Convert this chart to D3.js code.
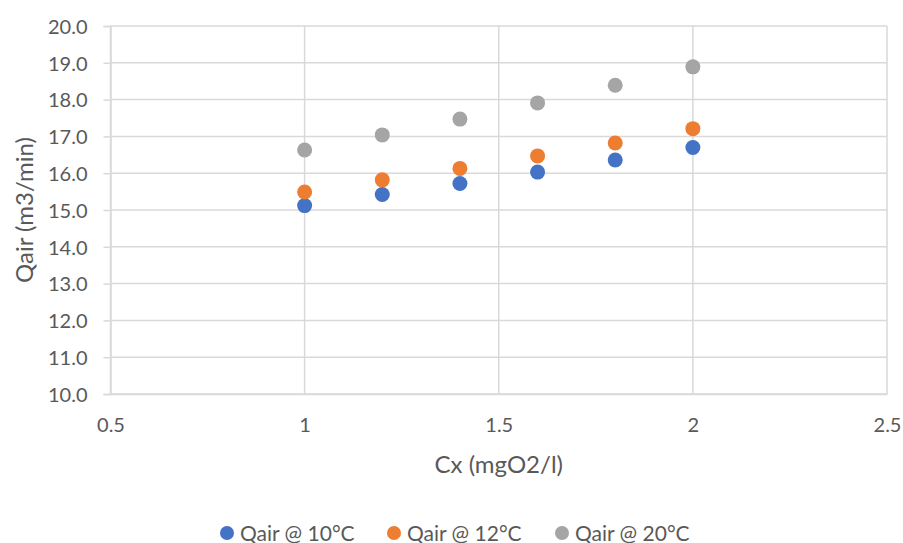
<!DOCTYPE html>
<html>
<head>
<meta charset="utf-8">
<script src="https://cdn.jsdelivr.net/npm/d3@7"></script>
<style>
  body { margin: 0; background: #fff; }
  text { font-family: Lato, "Liberation Sans", sans-serif; fill: #595959; }
</style>
</head>
<body>
<script>
var w = 903,
    h = 543;

// Oxygen concentration (mgO2/l) and air flow per temperature
var cx = [1, 1.2, 1.4, 1.6, 1.8, 2];
var q10 = [15.12, 15.42, 15.72, 16.03, 16.36, 16.70];
var q12 = [15.49, 15.82, 16.13, 16.47, 16.82, 17.21];
var q20 = [16.63, 17.04, 17.47, 17.91, 18.39, 18.89];

var seriesNames = ['Qair @ 10°C', 'Qair @ 12°C', 'Qair @ 20°C'];
var seriesColors = ['#4472c4', '#ed7d31', '#a5a5a5'];
var xTicks = [0.5, 1, 1.5, 2, 2.5];
var yTicks = [10, 11, 12, 13, 14, 15, 16, 17, 18, 19, 20];

var series = [q10, q12, q20].map(function(vals, i) {
  return {
    name: seriesNames[i],
    color: seriesColors[i],
    points: vals.map(function(v, j) { return { x: cx[j], y: v }; })
  };
});

var margin = { top: 26, right: 16, bottom: 149, left: 110.5 };

var svg = d3.select('body')
            .append('svg')
            .attr('width', w)
            .attr('height', h);

var x = d3.scaleLinear()
          .domain([0.5, 2.5])
          .range([margin.left, w - margin.right]);

var y = d3.scaleLinear()
          .domain([10, 20])
          .range([h - margin.bottom, margin.top]);

// Gridlines
svg.append('g')
   .selectAll('line')
   .data(yTicks)
   .enter()
   .append('line')
   .attr('x1', x(0.5))
   .attr('x2', x(2.5))
   .attr('y1', function(d) { return y(d); })
   .attr('y2', function(d) { return y(d); })
   .style('stroke', '#d9d9d9')
   .style('stroke-width', 1.5);

svg.append('g')
   .selectAll('line')
   .data(xTicks)
   .enter()
   .append('line')
   .attr('x1', function(d) { return x(d); })
   .attr('x2', function(d) { return x(d); })
   .attr('y1', y(10))
   .attr('y2', y(20))
   .style('stroke', '#d9d9d9')
   .style('stroke-width', 1.5);

// Axes
var yAxis = d3.axisLeft(y)
              .tickValues(yTicks)
              .tickFormat(d3.format('.1f'))
              .tickSize(7)
              .tickPadding(16);

var gy = svg.append('g')
            .attr('transform', 'translate(' + x(0.5) + ',0)')
            .call(yAxis);
gy.select('.domain').style('stroke', '#d9d9d9').style('stroke-width', 1.5);
gy.selectAll('.tick line').style('stroke', '#d9d9d9').style('stroke-width', 1.5);
gy.selectAll('text')
  .attr('dy', '0.36em')
  .style('font-family', 'Lato, sans-serif')
  .style('font-size', '20px')
  .style('fill', '#595959');

var xAxis = d3.axisBottom(x)
              .tickValues(xTicks)
              .tickFormat(d3.format(''))
              .tickSize(0);

var gx = svg.append('g')
            .attr('transform', 'translate(0,' + y(10) + ')')
            .call(xAxis);
gx.select('.domain').style('stroke', '#d9d9d9').style('stroke-width', 1.5);
gx.selectAll('text')
  .attr('y', 38)
  .attr('dy', 0)
  .style('font-family', 'Lato, sans-serif')
  .style('font-size', '20px')
  .style('fill', '#595959');

// Axis titles
svg.append('text')
   .attr('x', x(1.5))
   .attr('y', 473)
   .attr('text-anchor', 'middle')
   .style('font-size', '24px')
   .text('Cx (mgO2/l)');

svg.append('text')
   .attr('transform', 'translate(33,' + ((y(10) + y(20)) / 2) + ') rotate(-90)')
   .attr('text-anchor', 'middle')
   .style('font-size', '24px')
   .text('Qair (m3/min)');

// Points
series.forEach(function(s) {
  svg.append('g')
     .selectAll('circle')
     .data(s.points)
     .enter()
     .append('circle')
     .attr('cx', function(d) { return x(d.x); })
     .attr('cy', function(d) { return y(d.y); })
     .attr('r', 7.5)
     .style('fill', s.color);
});

// Legend along the bottom edge
var legendX = [227, 394, 562];
var legend = svg.append('g')
                .selectAll('g')
                .data(series)
                .enter()
                .append('g')
                .attr('transform', function(d, i) {
                  return 'translate(' + legendX[i] + ',533)';
                });

legend.append('circle')
      .attr('r', 7)
      .style('fill', function(d) { return d.color; });

legend.append('text')
      .attr('x', 13)
      .attr('y', 7.5)
      .style('font-size', '21px')
      .text(function(d) { return d.name; });
</script>
</body>
</html>
